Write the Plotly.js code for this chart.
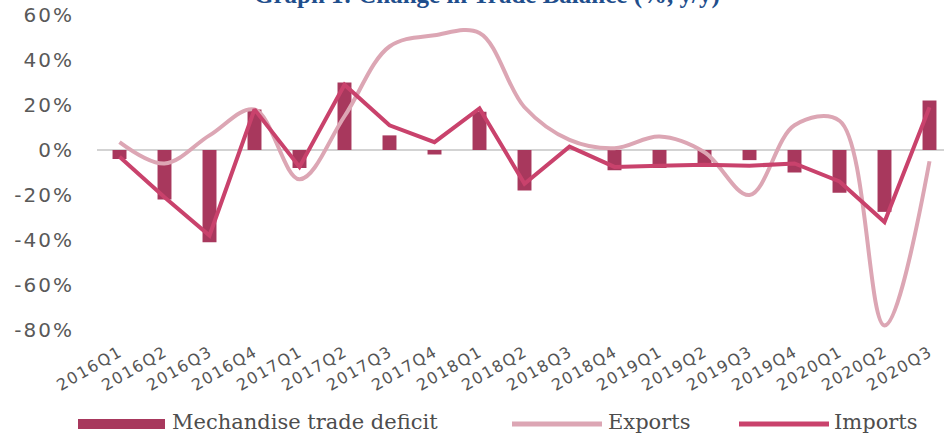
<!DOCTYPE html>
<html>
<head>
<meta charset="utf-8">
<script src="https://cdn.plot.ly/plotly-3.0.1.min.js"></script>
<style>
  html, body { margin: 0; padding: 0; background: #ffffff; }
  #chart { width: 944px; height: 436px; }
  #chart .ytick text { letter-spacing: 2px; }
  #chart .xtick text { letter-spacing: 1.5px; }
</style>
</head>
<body>
<div id="chart"></div>
<script>
var quarters = ["2016Q1","2016Q2","2016Q3","2016Q4","2017Q1","2017Q2","2017Q3","2017Q4","2018Q1","2018Q2","2018Q3","2018Q4","2019Q1","2019Q2","2019Q3","2019Q4","2020Q1","2020Q2","2020Q3"];
var tradeDeficit = [-4, -22, -41, 18, -8, 30, 6.5, -2, 17, -18, 0, -9, -8, -6, -4.5, -10, -19, -27.5, 22];
var exportsChg   = [3.5, -6, 6.5, 18, -13, 15, 46, 51, 52, 19, 4.5, 0.8, 6, -1, -20, 11, 13, -78, -5];
var importsChg   = [-3, -21, -38, 18, -7.5, 29, 11, 3.5, 18.5, -15, 1.5, -7.5, -7, -6.5, -7, -6, -14, -32, 19];
var yTickVals = [-80, -60, -40, -20, 0, 20, 40, 60];
var yTickText = ["-80%", "-60%", "-40%", "-20%", "0%", "20%", "40%", "60%"];
var legendLabels = ["Mechandise trade deficit", "Exports", "Imports"];
var titleText = "Graph 1: Change in Trade Balance (%, y/y)";

var barColor = "#a8385d";
var expColor = "#dca6b4";
var impColor = "#c9426c";

var L = 97, R = 0, T = 11, B = 97, W = 944, H = 436;
var plotW = W - L - R, plotH = H - T - B;
function px(x) { return (x - L) / plotW; }
function py(y) { return (H - B - y) / plotH; }

var traces = [
  { type: "bar", x: quarters, y: tradeDeficit, width: 0.31,
    marker: { color: barColor }, name: legendLabels[0] },
  { type: "scatter", mode: "lines", x: quarters, y: exportsChg,
    line: { color: expColor, width: 4, shape: "spline", smoothing: 1 }, name: legendLabels[1] },
  { type: "scatter", mode: "lines", x: quarters, y: importsChg,
    line: { color: impColor, width: 4 }, name: legendLabels[2] }
];

var legFont = { family: "DejaVu Serif, Liberation Serif, serif", size: 21, color: "#4d4d4d" };
var legY = 424;
var legTextY = 422;

var layout = {
  width: W, height: H,
  margin: { l: L, r: R, t: T, b: B, pad: 0 },
  paper_bgcolor: "#ffffff", plot_bgcolor: "#ffffff",
  showlegend: false,
  xaxis: {
    type: "category",
    range: [-0.5, -0.5 + plotW / 45],
    showgrid: false, zeroline: false, showline: false, ticks: "",
    tickangle: -30,
    tickfont: { family: "DejaVu Sans, sans-serif", size: 16, color: "#555555" },
    automargin: false
  },
  yaxis: {
    range: [-(H - B - 150) / 2.25, (150 - T) / 2.25],
    tickmode: "array",
    tickvals: yTickVals,
    ticktext: yTickText,
    showgrid: false,
    zeroline: true, zerolinecolor: "#d3d3d3", zerolinewidth: 2,
    showline: false, ticks: "",
    ticklabelstandoff: 22,
    tickfont: { family: "DejaVu Sans, sans-serif", size: 20, color: "#595959" },
    automargin: false
  },
  shapes: [
    { type: "rect", xref: "paper", yref: "paper", x0: px(78), x1: px(165), y0: py(429), y1: py(419),
      fillcolor: barColor, line: { width: 0 } },
    { type: "line", xref: "paper", yref: "paper", x0: px(512), x1: px(602), y0: py(legY), y1: py(legY),
      line: { color: expColor, width: 5 } },
    { type: "line", xref: "paper", yref: "paper", x0: px(739), x1: px(829), y0: py(legY), y1: py(legY),
      line: { color: impColor, width: 5 } }
  ],
  annotations: [
    { text: "<b>" + titleText + "</b>", xref: "paper", yref: "paper", x: px(487), y: 1.0,
      xanchor: "center", yanchor: "bottom", showarrow: false,
      font: { family: "Liberation Serif, serif", size: 25, color: "#1f4e8c" } },
    { text: legendLabels[0], xref: "paper", yref: "paper", x: px(170), y: py(legTextY),
      xanchor: "left", yanchor: "middle", showarrow: false, font: legFont },
    { text: legendLabels[1], xref: "paper", yref: "paper", x: px(606), y: py(legTextY),
      xanchor: "left", yanchor: "middle", showarrow: false, font: legFont },
    { text: legendLabels[2], xref: "paper", yref: "paper", x: px(832), y: py(legTextY),
      xanchor: "left", yanchor: "middle", showarrow: false, font: legFont }
  ]
};

Plotly.newPlot("chart", traces, layout, { staticPlot: true, displayModeBar: false });
</script>
</body>
</html>
